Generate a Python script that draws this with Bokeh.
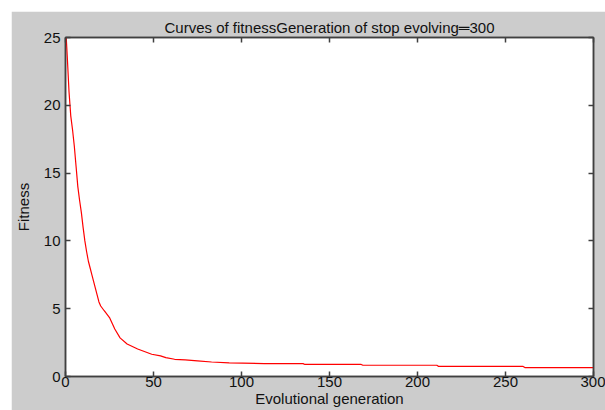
from bokeh.plotting import figure
from bokeh.models import Range1d, LinearAxis, FixedTicker
from bokeh.embed import file_html
from bokeh.resources import INLINE

# Data
generation = [0, 1, 2, 3, 4, 5, 6, 7, 8, 9, 10, 11, 12, 13, 14, 15, 16, 17, 18, 19, 20,
              22, 25, 28, 31, 35, 41, 49, 54, 57, 62, 68, 75, 83, 93, 113, 135, 136,
              168, 169, 211, 212, 260, 261, 300]
fitness = [26.0, 23.6, 21.0, 19.2, 18.2, 17.0, 15.5, 14.0, 13.0, 12.1, 11.0, 10.0, 9.2,
           8.5, 8.0, 7.5, 7.0, 6.5, 6.0, 5.5, 5.2, 4.85, 4.35, 3.5, 2.85, 2.4, 2.03, 1.64,
           1.52, 1.39, 1.27, 1.22, 1.15, 1.07, 1.0, 0.95, 0.95, 0.89, 0.89, 0.83, 0.83,
           0.74, 0.74, 0.66, 0.66]
x_ticks = [0, 50, 100, 150, 200, 250, 300]
y_ticks = [0, 5, 10, 15, 20, 25]

title_text = "Curves of fitnessGeneration of stop evolving\u2550300"
x_label = "Evolutional generation"
y_label = "Fitness"

FONT = "Liberation Sans"
FS = "15px"
AXC = "#404040"
BG = "#cccccc"

p = figure(width=594, height=399, output_backend="svg", toolbar_location=None,
           x_range=Range1d(0, 300), y_range=Range1d(0, 25),
           min_border_left=53, min_border_right=12, min_border_top=26, min_border_bottom=34,
           title=title_text)
p.margin = (11, 0, 0, 11)
p.background_fill_color = "white"
p.border_fill_color = BG
p.outline_line_color = AXC
p.outline_line_width = 1.5
p.grid.visible = False

p.title.text_font = FONT
p.title.text_font_size = FS
p.title.text_font_style = "normal"
p.title.text_color = "#111111"
p.title.align = "center"
p.title.standoff = 3

p.line(generation, fitness, line_color="#ff0000", line_width=1.2)

for ax, ticks in ((p.xaxis[0], x_ticks), (p.yaxis[0], y_ticks)):
    ax.ticker = FixedTicker(ticks=ticks)
    ax.major_tick_in = 5
    ax.major_tick_out = 0
    ax.minor_tick_line_color = None
    ax.axis_line_color = AXC
    ax.axis_line_width = 1.5
    ax.major_tick_line_color = AXC
    ax.major_tick_line_width = 1.5
    ax.major_label_text_font = FONT
    ax.major_label_text_font_size = FS
    ax.major_label_text_color = "#111111"
    ax.axis_label_text_font = FONT
    ax.axis_label_text_font_size = FS
    ax.axis_label_text_font_style = "normal"
    ax.axis_label_text_color = "#111111"

p.xaxis[0].axis_label = x_label
p.xaxis[0].major_label_standoff = 0
p.xaxis[0].axis_label_standoff = 0
p.yaxis[0].axis_label = y_label
p.yaxis[0].major_label_standoff = 5
p.yaxis[0].axis_label_standoff = 9

for loc, ticks in (("above", x_ticks), ("right", y_ticks)):
    ax = LinearAxis(ticker=FixedTicker(ticks=ticks))
    ax.major_tick_in = 5
    ax.major_tick_out = 0
    ax.minor_tick_line_color = None
    ax.axis_line_color = AXC
    ax.axis_line_width = 1.5
    ax.major_tick_line_color = AXC
    ax.major_tick_line_width = 1.5
    ax.major_label_text_color = None
    ax.major_label_text_font_size = "1px"
    ax.major_label_standoff = 0
    p.add_layout(ax, loc)

open("out.html", "w").write(file_html(p, INLINE))
